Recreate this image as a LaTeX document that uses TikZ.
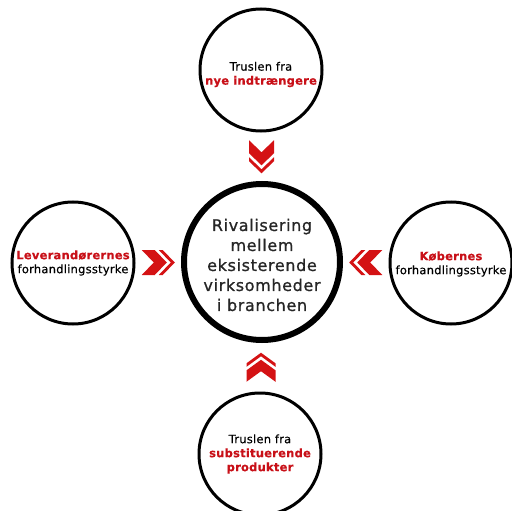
\documentclass[tikz,border=0pt]{standalone}
\usepackage{fontspec}
\setmainfont{DejaVu Sans}
\usetikzlibrary{calc}
\definecolor{accent}{RGB}{200,16,24}
\definecolor{chevred}{RGB}{212,18,20}
\newfontfamily\ringfont[LetterSpace=2,FakeBold=0.4]{DejaVu Sans}
\newfontfamily\hubfont[LetterSpace=4,FakeBold=0.9]{DejaVu Sans}
\newcommand\redword[1]{{\color{accent}\bfseries #1}}

\tikzset{
  force/.style={circle, draw=black, line width=3pt, minimum size=122pt,
    inner sep=0pt},
  forcetext/.style={align=center, text=black, inner sep=0pt,
    font=\ringfont\fontsize{11.5}{14}\selectfont},
  hub/.style={circle, draw=black, line width=6pt, minimum size=156pt,
    inner sep=0pt},
  hubtext/.style={align=center, text=black!85, inner sep=0pt,
    font=\hubfont\fontsize{16}{20}\selectfont},
  % double chevron pointing along local +x, centred on the origin
  chevron/.pic={
    \fill[chevred] (-16.5,-12.5) -- (-4.5,0) -- (-16.5,12.5) -- (-3.5,12.5)
      -- (8.5,0) -- (-3.5,-12.5) -- cycle;
    \fill[chevred] (0.5,-12.5) -- (12.5,0) -- (0.5,12.5) -- (4.5,12.5)
      -- (16.5,0) -- (4.5,-12.5) -- cycle;
  }
}

\begin{document}
\begin{tikzpicture}[x=1pt, y=-1pt]
  \useasboundingbox (0,0) rectangle (512,511);

  % the five circles
  \node[hub] (rival) at (262,262) {};
  \node[force] (entrants) at (261,70) {};
  \node[force] (substitutes) at (260,454) {};
  \node[force] (suppliers) at (73,263) {};
  \node[force] (buyers) at (451,263) {};

  % their texts
  \node[hubtext] (rival-text) at ([yshift=-3pt]rival.center)
    {Rivalisering\\mellem\\eksisterende\\virksomheder\\i branchen};
  \node[forcetext] (entrants-text) at ([yshift=-4.5pt]entrants.center)
    {Truslen fra\\\redword{nye indtrængere}};
  \node[forcetext] (substitutes-text) at (substitutes.center)
    {Truslen fra\\\redword{substituerende}\\\redword{produkter}};
  \node[forcetext] (suppliers-text) at (suppliers.center)
    {\redword{Leverandørernes}\\forhandlingsstyrke};
  \node[forcetext] (buyers-text) at ([yshift=-1pt]buyers.center)
    {\redword{Købernes}\\forhandlingsstyrke};

  % double chevrons between each outer force and the central rivalry
  \pic[rotate=-90] at ($(entrants.south)!0.5!(rival.north)$) {chevron};
  \pic[rotate=90, xscale=0.88, yscale=1.16] at ($(substitutes.north)!0.5!(rival.south)$) {chevron};
  \pic at ($(suppliers.east)!0.5!(rival.west)$) {chevron};
  \pic[rotate=180] at ($(buyers.west)!0.5!(rival.east)$) {chevron};
\end{tikzpicture}
\end{document}
